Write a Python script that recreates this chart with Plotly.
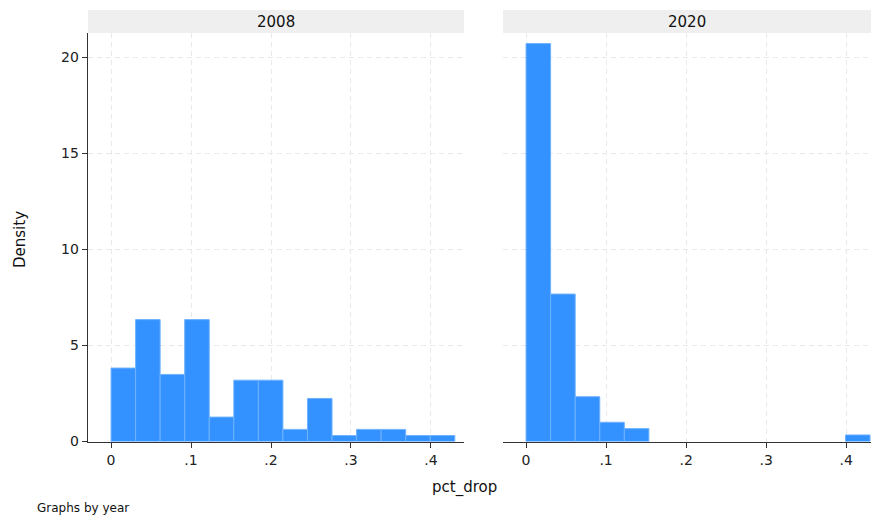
import plotly.graph_objects as go

# Data (densities)
years = ["2008", "2020"]
bin_width = 0.0307
bins_2008 = [0.0, 0.0307, 0.0614, 0.0921, 0.1228, 0.1535, 0.1842, 0.2149, 0.2456, 0.2763, 0.307, 0.3377, 0.3684, 0.3991]
dens_2008 = [3.82, 6.34, 3.49, 6.34, 1.27, 3.19, 3.19, 0.63, 2.24, 0.31, 0.63, 0.63, 0.31, 0.31]
bins_2020 = [0.0, 0.0307, 0.0614, 0.0921, 0.1228, 0.3991]
dens_2020 = [20.7, 7.67, 2.33, 1.0, 0.67, 0.34]
x_ticks = [0, 0.1, 0.2, 0.3, 0.4]
x_tick_labels = ["0", ".1", ".2", ".3", ".4"]
y_ticks = [0, 5, 10, 15, 20]
y_tick_labels = ["0", "5", "10", "15", "20"]

W, H = 871, 519
H_REQ = H + 8  # the page renders the figure 8px shorter than requested
FONT = "DejaVu Sans"
BAR = "#3392ff"
EDGE = "#6fb2ff"
GRID = "#e9e9e9"
AX = "#333333"

fig = go.Figure()
fig.add_trace(go.Bar(x=bins_2008, y=dens_2008, width=[bin_width] * len(bins_2008), offset=0,
                     marker=dict(color=BAR, line=dict(color=EDGE, width=1)),
                     xaxis="x", yaxis="y", showlegend=False, hoverinfo="skip"))
fig.add_trace(go.Bar(x=bins_2020, y=dens_2020, width=[bin_width] * len(bins_2020), offset=0,
                     marker=dict(color=BAR, line=dict(color=EDGE, width=1)),
                     xaxis="x2", yaxis="y2", showlegend=False, hoverinfo="skip"))

def px(v):
    return v / W

def py(v):
    return 1 - v / H

left_dom = [px(88), px(464)]
right_dom = [px(503), 1.0]
y_dom = [py(441.5), py(33)]
xr_left = [-0.0288, 0.4413]
xr_right = [-0.0288, 0.431]
yr = [0, 21.25]

xcommon = dict(tickvals=x_ticks, ticktext=x_tick_labels, ticks="outside", ticklen=5,
               tickcolor=AX, showline=True, linecolor=AX, linewidth=1.3,
               showgrid=True, gridcolor=GRID, griddash="5px,4px", gridwidth=1,
               zeroline=False, tickfont=dict(family=FONT, size=14, color="#222"))
ycommon = dict(tickvals=y_ticks, ticktext=y_tick_labels, range=yr, domain=y_dom,
               showgrid=True, gridcolor=GRID, griddash="5px,4px", gridwidth=1, zeroline=False,
               tickfont=dict(family=FONT, size=14, color="#222"))

fig.update_layout(
    width=W, height=H_REQ,
    margin=dict(l=0, r=0, t=0, b=0),
    paper_bgcolor="white", plot_bgcolor="white",
    bargap=0,
    font=dict(family=FONT, color="#222"),
    xaxis=dict(domain=left_dom, range=xr_left, anchor="y", **xcommon),
    xaxis2=dict(domain=right_dom, range=xr_right, anchor="y2", **xcommon),
    yaxis=dict(anchor="x", ticks="outside", ticklen=5, tickcolor=AX,
               showline=True, linecolor=AX, linewidth=1.3, **ycommon),
    yaxis2=dict(anchor="x2", showticklabels=False, ticks="", showline=False, **ycommon),
)

# Facet strips
for dom, yr_lbl in zip([left_dom, right_dom], years):
    fig.add_shape(type="rect", xref="paper", yref="paper", x0=dom[0], x1=dom[1],
                  y0=py(33), y1=py(10), fillcolor="#efefef", line=dict(width=0), layer="below")
    fig.add_annotation(xref="paper", yref="paper", x=(dom[0] + dom[1]) / 2, y=py(21.5),
                       text=yr_lbl, showarrow=False, xanchor="center", yanchor="middle",
                       font=dict(family=FONT, size=15, color="#111"))

fig.add_annotation(xref="paper", yref="paper", x=px(20), y=py(240), text="Density",
                   textangle=-90, showarrow=False, xanchor="center", yanchor="middle",
                   font=dict(family=FONT, size=15, color="#111"))
fig.add_annotation(xref="paper", yref="paper", x=px(465), y=py(487), text="pct_drop",
                   showarrow=False, xanchor="center", yanchor="middle",
                   font=dict(family=FONT, size=15, color="#111"))
fig.add_annotation(xref="paper", yref="paper", x=px(35), y=py(508), text="Graphs by year",
                   showarrow=False, xanchor="left", yanchor="middle",
                   font=dict(family=FONT, size=12, color="#111"))

fig.write_html(
    "out.html",
    config={"displayModeBar": False, "staticPlot": True},
    post_script="document.body.style.margin='0';document.body.style.overflow='hidden';",
)
